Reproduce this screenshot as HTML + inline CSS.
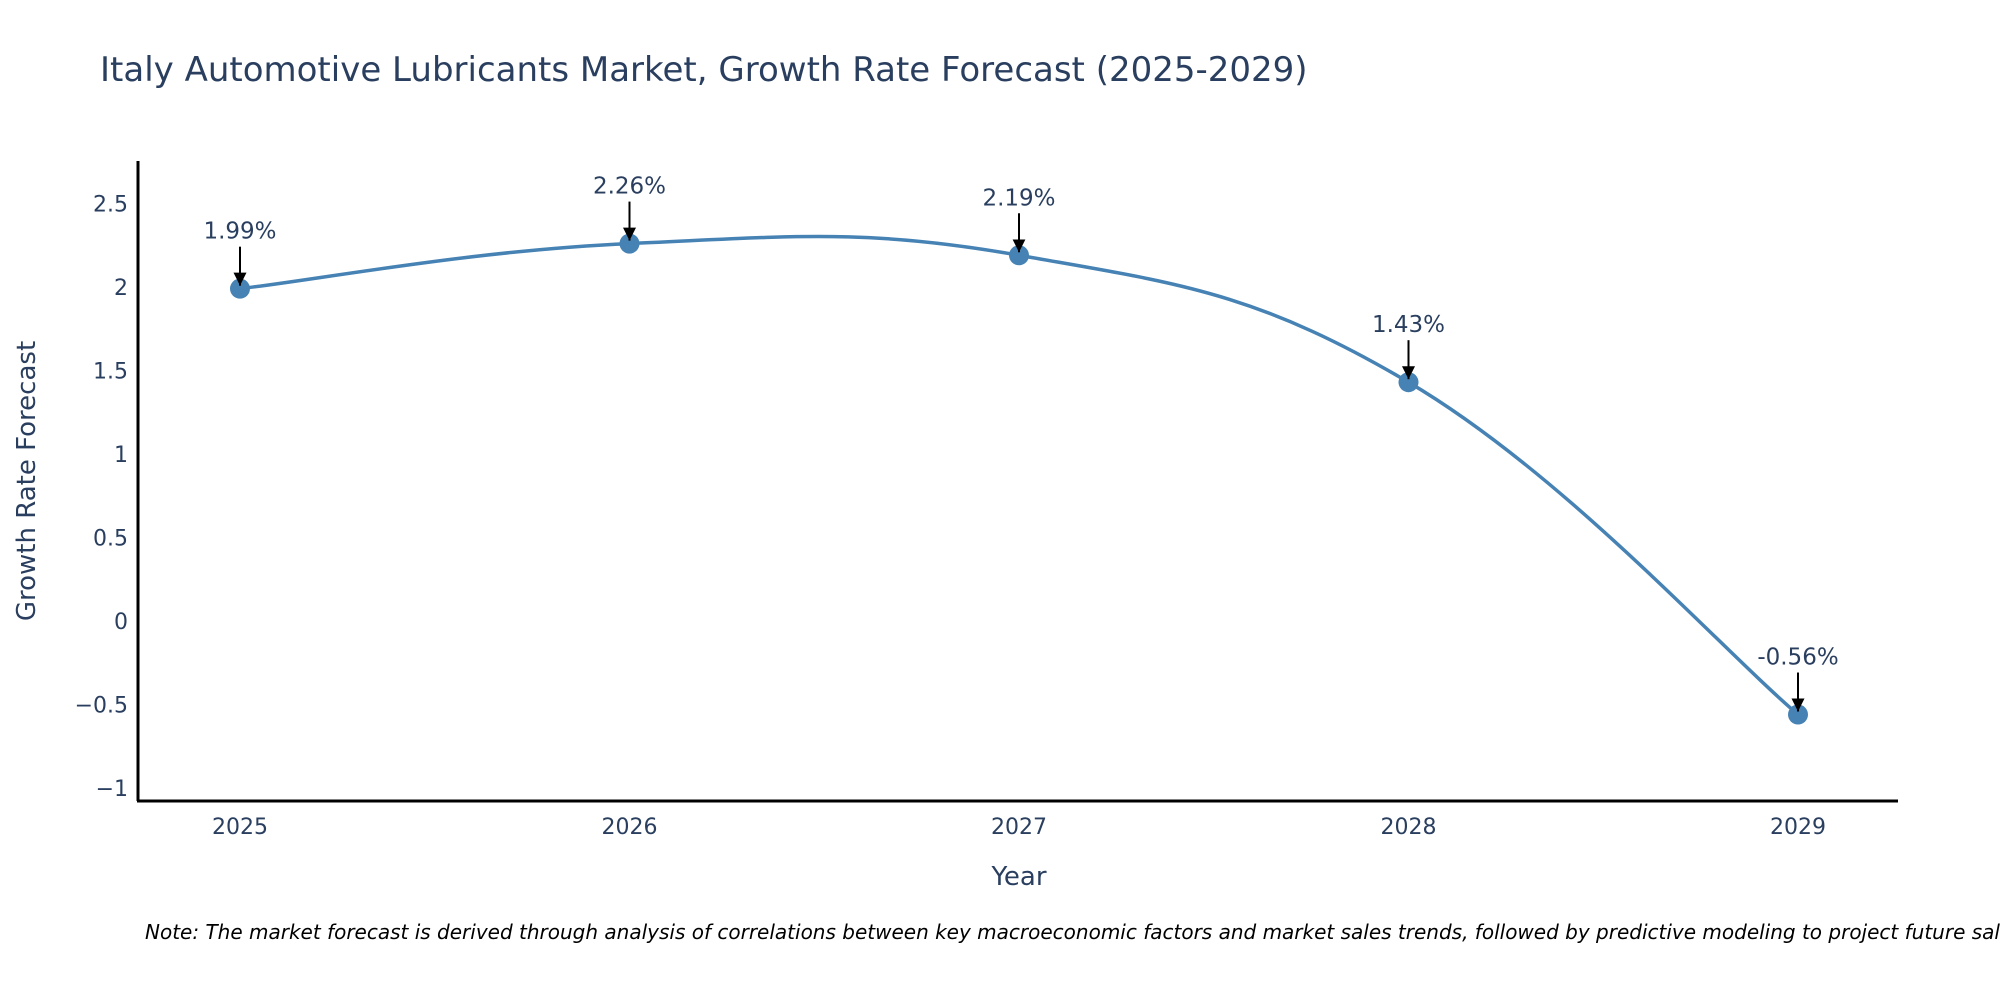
<!DOCTYPE html>
<html><head><meta charset="utf-8"><style>
body{margin:0;background:#fff;}
svg text{font-family:"DejaVu Sans","Liberation Sans",sans-serif;}
</style></head><body>
<svg id="chart" width="2000" height="1000" xmlns="http://www.w3.org/2000/svg">
<defs><marker id="ah" viewBox="0 0 10 10" refX="10" refY="5" markerWidth="6.5" markerHeight="6.5" markerUnits="strokeWidth" orient="auto"><path d="M0,0 L10,5 L0,10 z" fill="#000"/></marker></defs>
<text x="100" y="81" font-size="34" fill="#2a3f5f">Italy Automotive Lubricants Market, Growth Rate Forecast (2025-2029)</text>
<g id="axes"></g>
<g id="series"></g>
<text transform="translate(35,481) rotate(-90)" text-anchor="middle" font-size="26" fill="#2a3f5f">Growth Rate Forecast</text>
<text x="1019" y="885" text-anchor="middle" font-size="26" fill="#2a3f5f">Year</text>
<text x="145" y="939" font-size="20" font-style="italic" fill="#000">Note: The market forecast is derived through analysis of correlations between key macroeconomic factors and market sales trends, followed by predictive modeling to project future sales.</text>
</svg>
<script>
const years=["2025","2026","2027","2028","2029"];
const values=[1.99,2.26,2.19,1.43,-0.56];
const labels=["1.99%","2.26%","2.19%","1.43%","-0.56%"];
const yTicks=[-1,-0.5,0,0.5,1,1.5,2,2.5];
const yTickLabels=["−1","−0.5","0","0.5","1","1.5","2","2.5"];
const NS="http://www.w3.org/2000/svg";
const X=i=>240+i*(1798-240)/(years.length-1);
const Y=v=>621-v*167;
function mk(t,a,p){const e=document.createElementNS(NS,t);for(const k in a)e.setAttribute(k,a[k]);(p||document.getElementById('series')).appendChild(e);return e;}
const ax=document.getElementById('axes');
let l=mk('line',{x1:138,y1:161,x2:138,y2:801,stroke:'#000','stroke-width':3},ax);

l=mk('line',{x1:137,y1:801,x2:1898,y2:801,stroke:'#000','stroke-width':3},ax);

yTicks.forEach((v,i)=>{const t=mk('text',{x:128,y:Y(v)+8,'text-anchor':'end','font-size':22,fill:'#2a3f5f'},ax);t.textContent=yTickLabels[i];
});
years.forEach((y,i)=>{const t=mk('text',{x:X(i),y:834,'text-anchor':'middle','font-size':22,fill:'#2a3f5f'},ax);t.textContent=y;
});
const pts=values.map((v,i)=>[X(i),Y(v)]);
let d='M'+pts[0][0]+','+pts[0][1];const s=0.2;
for(let i=0;i<pts.length-1;i++){const p0=pts[Math.max(i-1,0)],p1=pts[i],p2=pts[i+1],p3=pts[Math.min(i+2,pts.length-1)];
d+=` C${p1[0]+(p2[0]-p0[0])*s},${p1[1]+(p2[1]-p0[1])*s} ${p2[0]-(p3[0]-p1[0])*s},${p2[1]-(p3[1]-p1[1])*s} ${p2[0]},${p2[1]}`;}
const line=mk('path',{d:d,fill:'none',stroke:'#4682b4','stroke-width':3.5});

pts.forEach((p,i)=>{const c=mk('circle',{cx:p[0],cy:p[1],r:10,fill:'#4682b4'});

const a=mk('line',{x1:p[0],y1:p[1]-42,x2:p[0],y2:p[1]-3,stroke:'#000','stroke-width':2,'marker-end':'url(#ah)'});

const t=mk('text',{x:p[0],y:p[1]-50,'text-anchor':'middle','font-size':23,fill:'#2a3f5f'});t.textContent=labels[i];
});
</script>
</body></html>
